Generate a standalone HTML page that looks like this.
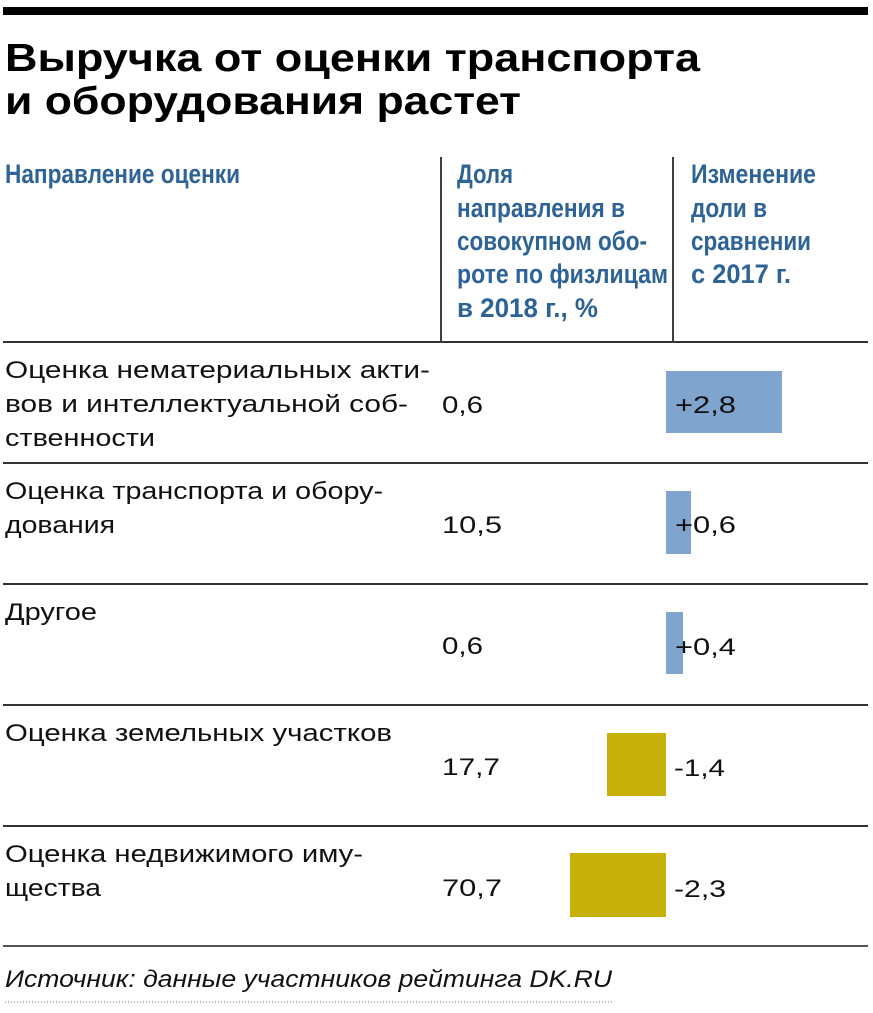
<!DOCTYPE html>
<html><head><meta charset="utf-8"><style>
html,body{margin:0;padding:0;background:#fff;}
svg{display:block;}
.ti{font-family:"Liberation Sans","Noto Sans CJK SC",sans-serif;font-weight:bold;font-size:39px;fill:#000;}
.h{font-family:"Liberation Sans","Noto Sans CJK SC",sans-serif;font-weight:bold;font-size:27px;fill:#2d6395;}
.r{font-family:"Liberation Sans","Noto Sans CJK SC",sans-serif;font-size:24px;fill:#111;}
.f{font-family:"Liberation Sans","Noto Sans CJK SC",sans-serif;font-style:italic;font-size:24px;fill:#111;}
</style></head><body>
<svg width="873" height="1013" viewBox="0 0 873 1013" xmlns="http://www.w3.org/2000/svg">
<rect x="0" y="0" width="873" height="1013" fill="#fff"/>
<rect x="3" y="7" width="865" height="8" fill="#000"/>
<text class="ti" x="5" y="71" textLength="695" lengthAdjust="spacingAndGlyphs">Выручка от оценки транспорта</text>
<text class="ti" x="5" y="114" textLength="516" lengthAdjust="spacingAndGlyphs">и оборудования растет</text>

<!-- header -->
<text class="h" x="5" y="183" textLength="235" lengthAdjust="spacingAndGlyphs">Направление оценки</text>
<text class="h" x="457" y="183" textLength="56" lengthAdjust="spacingAndGlyphs">Доля</text>
<text class="h" x="457" y="217" textLength="168" lengthAdjust="spacingAndGlyphs">направления в</text>
<text class="h" x="457" y="250" textLength="190" lengthAdjust="spacingAndGlyphs">совокупном обо-</text>
<text class="h" x="457" y="283" textLength="211" lengthAdjust="spacingAndGlyphs">роте по физлицам</text>
<text class="h" x="457" y="317" textLength="141" lengthAdjust="spacingAndGlyphs">в 2018 г., %</text>
<text class="h" x="691" y="183" textLength="125" lengthAdjust="spacingAndGlyphs">Изменение</text>
<text class="h" x="691" y="217" textLength="76" lengthAdjust="spacingAndGlyphs">доли в</text>
<text class="h" x="691" y="250" textLength="120" lengthAdjust="spacingAndGlyphs">сравнении</text>
<text class="h" x="691" y="283" textLength="100" lengthAdjust="spacingAndGlyphs">с 2017 г.</text>
<line x1="441" y1="157" x2="441" y2="342" stroke="#000" stroke-width="1.5"/>
<line x1="673" y1="157" x2="673" y2="342" stroke="#000" stroke-width="1.5"/>

<!-- row lines -->
<g stroke="#333" stroke-width="2">
<line x1="3" y1="342" x2="868" y2="342"/>
<line x1="3" y1="463" x2="868" y2="463"/>
<line x1="3" y1="584" x2="868" y2="584"/>
<line x1="3" y1="705" x2="868" y2="705"/>
<line x1="3" y1="826" x2="868" y2="826"/>
<line x1="3" y1="946" x2="868" y2="946" stroke="#555"/>
</g>

<!-- bars -->
<rect x="666" y="371" width="116" height="62" fill="#7fa4cd"/>
<rect x="666" y="491" width="25" height="63" fill="#7fa4cd"/>
<rect x="666" y="612" width="17" height="62" fill="#7fa4cd"/>
<rect x="607" y="733" width="59" height="63" fill="#c8b00b"/>
<rect x="570" y="853" width="96" height="64" fill="#c8b00b"/>

<!-- row 1 -->
<text class="r" x="5" y="378" textLength="425" lengthAdjust="spacingAndGlyphs">Оценка нематериальных акти-</text>
<text class="r" x="5" y="412" textLength="403" lengthAdjust="spacingAndGlyphs">вов и интеллектуальной соб-</text>
<text class="r" x="5" y="446" textLength="150" lengthAdjust="spacingAndGlyphs">ственности</text>
<text class="r" x="442" y="413" textLength="41" lengthAdjust="spacingAndGlyphs">0,6</text>
<text class="r" x="675" y="413" textLength="61" lengthAdjust="spacingAndGlyphs">+2,8</text>

<!-- row 2 -->
<text class="r" x="5" y="499" textLength="378" lengthAdjust="spacingAndGlyphs">Оценка транспорта и обору-</text>
<text class="r" x="5" y="533" textLength="110" lengthAdjust="spacingAndGlyphs">дования</text>
<text class="r" x="442" y="533" textLength="60" lengthAdjust="spacingAndGlyphs">10,5</text>
<text class="r" x="675" y="533" textLength="61" lengthAdjust="spacingAndGlyphs">+0,6</text>

<!-- row 3 -->
<text class="r" x="5" y="620" textLength="92" lengthAdjust="spacingAndGlyphs">Другое</text>
<text class="r" x="442" y="654" textLength="41" lengthAdjust="spacingAndGlyphs">0,6</text>
<text class="r" x="675" y="655" textLength="61" lengthAdjust="spacingAndGlyphs">+0,4</text>

<!-- row 4 -->
<text class="r" x="5" y="741" textLength="387" lengthAdjust="spacingAndGlyphs">Оценка земельных участков</text>
<text class="r" x="442" y="775" textLength="58" lengthAdjust="spacingAndGlyphs">17,7</text>
<text class="r" x="674" y="776" textLength="51" lengthAdjust="spacingAndGlyphs">-1,4</text>

<!-- row 5 -->
<text class="r" x="5" y="862" textLength="358" lengthAdjust="spacingAndGlyphs">Оценка недвижимого иму-</text>
<text class="r" x="5" y="896" textLength="96" lengthAdjust="spacingAndGlyphs">щества</text>
<text class="r" x="442" y="896" textLength="60" lengthAdjust="spacingAndGlyphs">70,7</text>
<text class="r" x="674" y="897" textLength="52" lengthAdjust="spacingAndGlyphs">-2,3</text>

<!-- footer -->
<text class="f" x="5" y="987" textLength="607" lengthAdjust="spacingAndGlyphs">Источник: данные участников рейтинга DK.RU</text>
<line x1="5" y1="1002" x2="612" y2="1002" stroke="#777" stroke-width="1" stroke-dasharray="1,2"/>
</svg>
</body></html>
